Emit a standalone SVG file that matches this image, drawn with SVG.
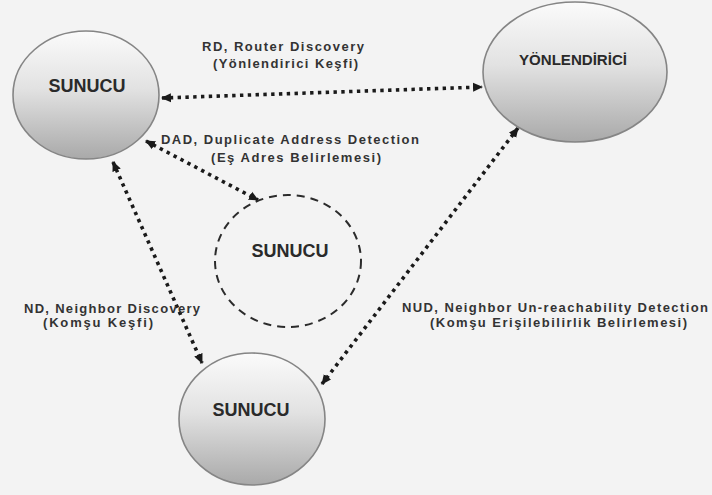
<svg xmlns="http://www.w3.org/2000/svg" width="712" height="495" viewBox="0 0 712 495">
  <defs>
    <linearGradient id="nodeFill" x1="0" y1="0" x2="0" y2="1">
      <stop offset="0" stop-color="#fbfbfb"/>
      <stop offset="0.45" stop-color="#e2e2e2"/>
      <stop offset="1" stop-color="#a9a9a9"/>
    </linearGradient>
    <marker id="arrow" viewBox="0 0 10 10" refX="9" refY="5" markerWidth="10" markerHeight="10" markerUnits="userSpaceOnUse" orient="auto-start-reverse">
      <path d="M0,0.5 L10,5 L0,9.5 Z" fill="#1a1a1a"/>
    </marker>
    <style>
      .node { fill: url(#nodeFill); stroke: #858585; stroke-width: 1.6; }
      .ghost { fill: none; stroke: #2b2b2b; stroke-width: 2; stroke-dasharray: 8 6; }
      .name { font-family: "Liberation Sans", Arial, sans-serif; font-weight: bold; fill: #2a2a2a; text-anchor: middle; }
      .link { fill: none; stroke: #1a1a1a; stroke-width: 3.6; stroke-dasharray: 3.4 4.4; marker-start: url(#arrow); marker-end: url(#arrow); }
      .label { font-family: "Liberation Sans", Arial, sans-serif; font-weight: bold; font-size: 13px; fill: #333333; }
    </style>
  </defs>

  <rect width="712" height="495" fill="#f3f3f3"/>

  <!-- connectors -->
  <g id="connectors">
    <line class="link" x1="162" y1="98" x2="482" y2="87"/>
    <line class="link" x1="146" y1="141" x2="258" y2="200"/>
    <line class="link" x1="113" y1="162" x2="202" y2="363"/>
    <line class="link" x1="518" y1="128" x2="322" y2="384"/>
  </g>

  <!-- nodes -->
  <g id="host-left">
    <ellipse class="node" cx="86" cy="95" rx="73" ry="64"/>
    <text class="name" x="87" y="92" font-size="18">SUNUCU</text>
  </g>
  <g id="router">
    <ellipse class="node" cx="575" cy="72" rx="92" ry="70"/>
    <text class="name" x="573" y="65" font-size="15" textLength="108" lengthAdjust="spacingAndGlyphs">YÖNLENDİRİCİ</text>
  </g>
  <g id="host-new">
    <ellipse class="ghost" cx="288" cy="261" rx="73" ry="66"/>
    <text class="name" x="290" y="257" font-size="18">SUNUCU</text>
  </g>
  <g id="host-bottom">
    <ellipse class="node" cx="252" cy="419" rx="73" ry="66"/>
    <text class="name" x="251" y="416" font-size="18">SUNUCU</text>
  </g>

  <!-- connector labels -->
  <g id="labels">
    <text class="label" x="202" y="51" textLength="162" lengthAdjust="spacing">RD, Router Discovery</text>
    <text class="label" x="213" y="68" textLength="145" lengthAdjust="spacing">(Yönlendirici  Keşfi)</text>
    <text class="label" x="161" y="144" textLength="258" lengthAdjust="spacing">DAD, Duplicate Address  Detection</text>
    <text class="label" x="211" y="162" textLength="170" lengthAdjust="spacing">(Eş Adres Belirlemesi)</text>
    <text class="label" x="24" y="313" textLength="176" lengthAdjust="spacing">ND, Neighbor Discovery</text>
    <text class="label" x="43" y="327" textLength="110" lengthAdjust="spacing">(Komşu Keşfi)</text>
    <text class="label" x="402" y="312" textLength="306" lengthAdjust="spacing">NUD, Neighbor Un-reachability  Detection</text>
    <text class="label" x="430" y="327" textLength="257" lengthAdjust="spacing">(Komşu Erişilebilirlik   Belirlemesi)</text>
  </g>
</svg>
